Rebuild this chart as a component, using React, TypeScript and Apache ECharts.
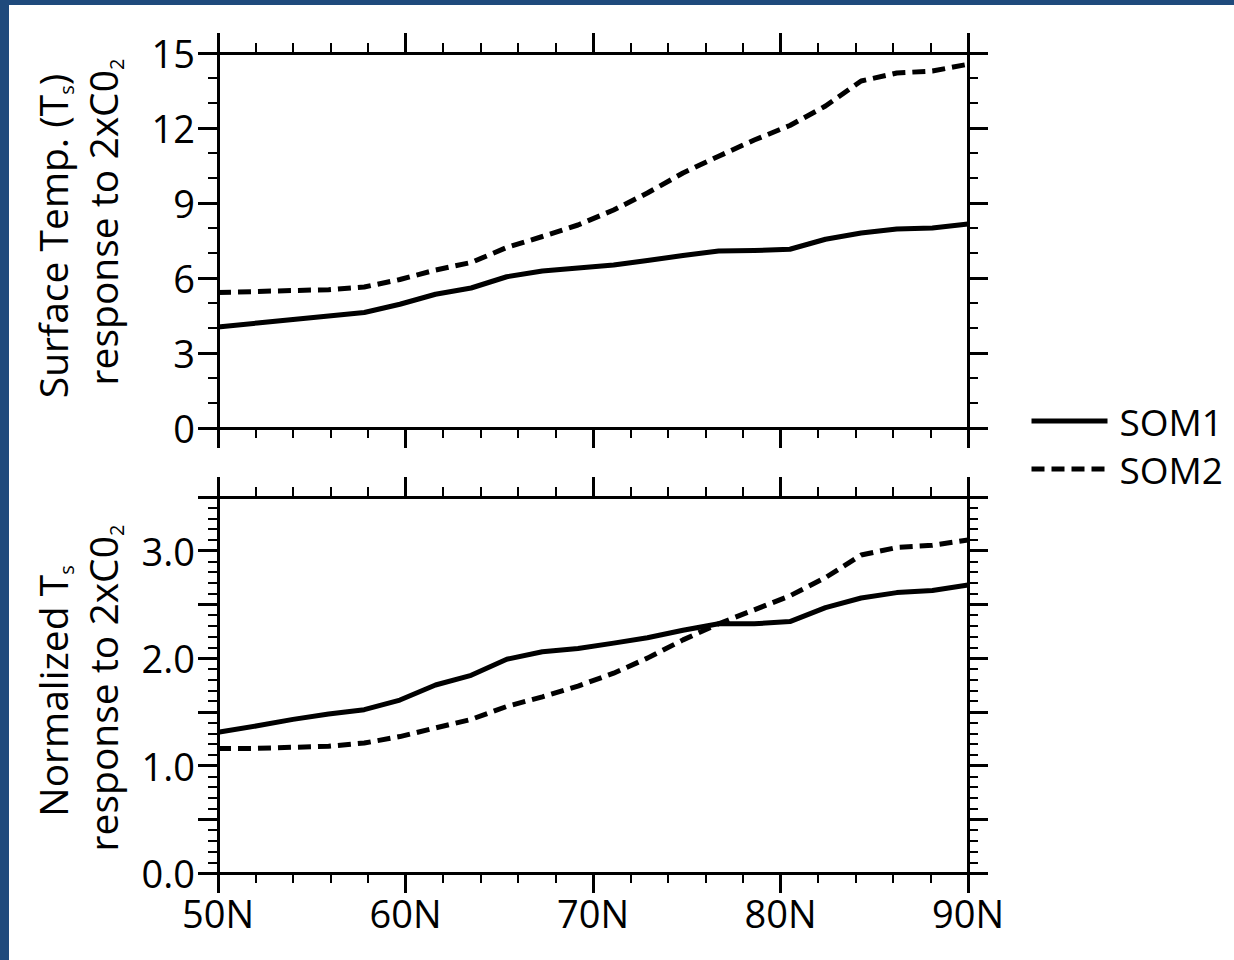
import React, { useEffect, useRef } from "react";
import * as echarts from "echarts";

// Model grid latitudes (deg N) shared by every curve
const latitudes = [50, 52.1, 54.0, 55.9, 57.8, 59.7, 61.6, 63.5, 65.4, 67.3, 69.2, 71.1, 72.9, 74.8, 76.7, 78.6, 80.5, 82.4, 84.3, 86.2, 88.1, 90];

// Surface temperature response to 2xCO2 (K)
const som1Ts = [4.04, 4.2, 4.34, 4.48, 4.62, 4.95, 5.35, 5.6, 6.05, 6.28, 6.4, 6.52, 6.7, 6.9, 7.08, 7.1, 7.15, 7.55, 7.8, 7.96, 8.0, 8.16];
const som2Ts = [5.42, 5.46, 5.5, 5.53, 5.64, 5.94, 6.32, 6.62, 7.22, 7.66, 8.12, 8.72, 9.4, 10.2, 10.87, 11.52, 12.1, 12.88, 13.88, 14.2, 14.28, 14.55];

// Normalized surface temperature response
const som1Norm = [1.31, 1.37, 1.43, 1.48, 1.52, 1.61, 1.75, 1.84, 1.99, 2.06, 2.09, 2.14, 2.19, 2.26, 2.32, 2.32, 2.34, 2.47, 2.56, 2.61, 2.63, 2.68];
const som2Norm = [1.16, 1.16, 1.17, 1.18, 1.21, 1.27, 1.35, 1.43, 1.55, 1.64, 1.74, 1.86, 2.0, 2.17, 2.32, 2.45, 2.58, 2.75, 2.96, 3.03, 3.05, 3.1];

const seriesNames = ["SOM1", "SOM2"];

const FONT = "Open Sans";
const BLACK = "#000000";
const FRAME_BLUE = "#1f4a7c";

const pairs = (ys: number[]) => latitudes.map((lat, i) => [lat, ys[i]]);

const axisLine = { show: true, onZero: false, lineStyle: { color: BLACK, width: 3 } };
const majorTick = { show: true, inside: false, length: 20, lineStyle: { color: BLACK, width: 3 } };
const minorTick = (n: number) => ({ show: true, splitNumber: n, length: 10, lineStyle: { color: BLACK, width: 2 } });
const labelStyle = { color: BLACK, fontSize: 38, fontFamily: FONT };

function latAxis(gridIndex: number, position: "top" | "bottom", labels: boolean) {
  return {
    type: "value",
    gridIndex,
    position,
    min: 50,
    max: 90,
    interval: 10,
    axisLine,
    axisTick: majorTick,
    minorTick: minorTick(5),
    splitLine: { show: false },
    axisLabel: labels
      ? { show: true, margin: 21, formatter: (v: number) => `${v}N`, ...labelStyle }
      : { show: false },
  };
}

function valueAxis(
  gridIndex: number,
  position: "left" | "right",
  max: number,
  interval: number,
  minorSplit: number,
  labels: boolean,
  formatter?: (v: number) => string
) {
  return {
    type: "value",
    gridIndex,
    position,
    min: 0,
    max,
    interval,
    axisLine,
    axisTick: majorTick,
    minorTick: minorTick(minorSplit),
    splitLine: { show: false },
    axisLabel: labels ? { show: true, margin: 23, formatter, ...labelStyle } : { show: false },
  };
}

const titleRich = {
  n: { fontSize: 39, fontFamily: FONT, color: BLACK, lineHeight: 53 },
  s: { fontSize: 20, fontFamily: FONT, color: BLACK, lineHeight: 53, height: 24, verticalAlign: "bottom" },
};

function titleText(text: string, x: number, y: number) {
  return {
    type: "text",
    x,
    y,
    rotation: Math.PI / 2,
    style: {
      text,
      rich: titleRich,
      fill: BLACK,
      fontSize: 39,
      fontFamily: FONT,
      lineHeight: 53,
      align: "center",
      verticalAlign: "middle",
    },
  };
}

export default function App() {
  const ref = useRef<HTMLDivElement>(null);

  useEffect(() => {
    document.body.style.margin = "0";
    if (!ref.current) return;
    const chart = echarts.init(ref.current, undefined, { renderer: "svg" });

    const lineSeries = (name: string, data: number[], axis: number, dashed: boolean) => ({
      name,
      type: "line",
      xAxisIndex: axis,
      yAxisIndex: axis,
      data: pairs(data),
      symbol: "none",
      showSymbol: false,
      lineStyle: {
        color: BLACK,
        width: 5,
        type: dashed ? [13, 7] : "solid",
        join: "round",
      },
      itemStyle: { color: BLACK },
      z: 3,
    });

    chart.setOption({
      animation: false,
      backgroundColor: "#ffffff",
      grid: [
        { left: 218, top: 53, width: 750, height: 375 },
        { left: 218, top: 497, width: 750, height: 376 },
      ],
      xAxis: [
        latAxis(0, "bottom", false),
        latAxis(0, "top", false),
        latAxis(1, "bottom", true),
        latAxis(1, "top", false),
      ],
      yAxis: [
        valueAxis(0, "left", 15, 3, 3, true, (v: number) => `${v}`),
        valueAxis(0, "right", 15, 3, 3, false),
        valueAxis(1, "left", 3.5, 0.5, 5, true, (v: number) =>
          Math.abs(v - Math.round(v)) < 1e-6 ? v.toFixed(1) : ""
        ),
        valueAxis(1, "right", 3.5, 0.5, 5, false),
      ],
      legend: {
        data: seriesNames,
        orient: "vertical",
        left: 1029,
        top: 401,
        padding: 0,
        itemWidth: 76,
        itemHeight: 14,
        itemGap: 8,
        lineStyle: { width: 5 },
        itemStyle: { color: "rgba(0,0,0,0)", borderWidth: 0, opacity: 0 },
        textStyle: { color: BLACK, fontSize: 37, fontFamily: FONT, lineHeight: 40, padding: [0, 0, 0, 7] },
        selectedMode: false,
      },
      series: [
        lineSeries(seriesNames[0], som1Ts, 0, false),
        lineSeries(seriesNames[1], som2Ts, 0, true),
        lineSeries(seriesNames[0], som1Norm, 2, false),
        lineSeries(seriesNames[1], som2Norm, 2, true),
      ],
      graphic: [
        { type: "rect", shape: { x: 0, y: 0, width: 9, height: 960 }, style: { fill: FRAME_BLUE } },
        { type: "rect", shape: { x: 0, y: 0, width: 1234, height: 5 }, style: { fill: FRAME_BLUE } },
        titleText("{n|Surface Temp. (T}{s|s}{n|)}", 52, 236),
        titleText("{n|response to 2xC0}{s|2}", 102, 222),
        titleText("{n|Normalized T}{s|s}", 52, 691),
        titleText("{n|response to 2xC0}{s|2}", 102, 688),
      ],
    });

    return () => chart.dispose();
  }, []);

  return <div ref={ref} style={{ width: 1234, height: 960, background: "#ffffff" }} />;
}
